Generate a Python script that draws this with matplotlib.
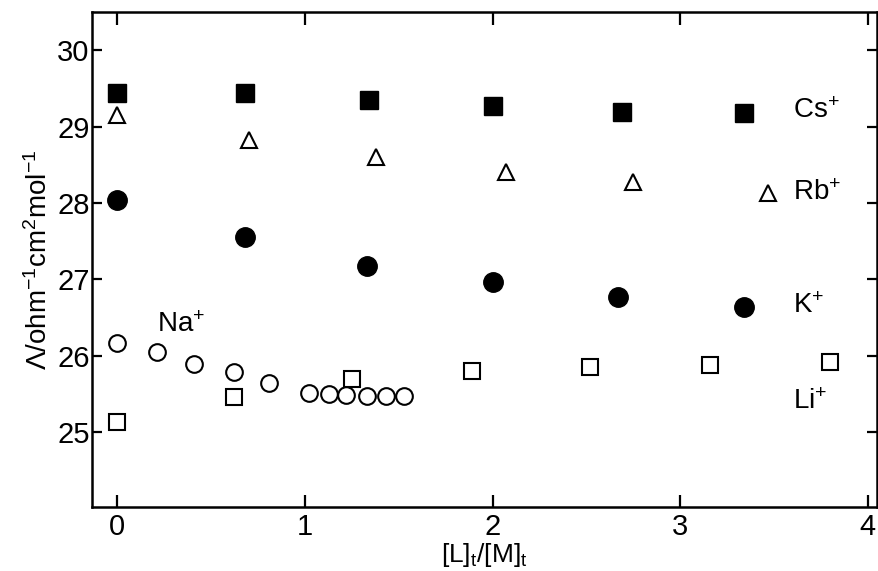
import matplotlib
matplotlib.use("Agg")
import matplotlib.pyplot as plt
from matplotlib import font_manager

# conductance vs ligand/metal ratio
cs_x = [0.0, 0.68, 1.34, 2.0, 2.69, 3.34]
cs_y = [29.44, 29.44, 29.35, 29.27, 29.19, 29.18]

rb_x = [0.0, 0.70, 1.38, 2.07, 2.75, 3.47]
rb_y = [29.15, 28.82, 28.60, 28.40, 28.27, 28.13]

k_x = [0.0, 0.68, 1.33, 2.0, 2.67, 3.34]
k_y = [28.04, 27.55, 27.17, 26.96, 26.77, 26.64]

na_x = [0.0, 0.21, 0.41, 0.62, 0.81, 1.02, 1.13, 1.22, 1.33, 1.43, 1.53]
na_y = [26.17, 26.05, 25.89, 25.79, 25.65, 25.51, 25.50, 25.49, 25.48, 25.47, 25.47]

li_x = [0.0, 0.62, 1.25, 1.89, 2.52, 3.16, 3.80]
li_y = [25.13, 25.46, 25.69, 25.80, 25.85, 25.88, 25.92]

ion_labels = ["Cs$^{+}$", "Rb$^{+}$", "K$^{+}$", "Li$^{+}$"]
ion_label_y = [29.21, 28.13, 26.65, 25.40]

names = {f.name for f in font_manager.fontManager.ttflist}
family = "Liberation Sans Narrow" if "Liberation Sans Narrow" in names else "Liberation Sans"
plt.rcParams["font.family"] = [family, "DejaVu Sans"]
plt.rcParams["mathtext.default"] = "regular"

fig = plt.figure(figsize=(8.79, 5.71), dpi=100)
ax = fig.add_axes([0.105, 0.112, 0.893, 0.867])

ax.plot(cs_x, cs_y, ls="none", marker="s", ms=13, mfc="black", mec="black")
ax.plot(rb_x, rb_y, ls="none", marker="^", ms=11, mfc="white", mec="black", mew=1.5)
ax.plot(k_x, k_y, ls="none", marker="o", ms=14, mfc="black", mec="black")
ax.plot(na_x, na_y, ls="none", marker="o", ms=12, mfc="none", mec="black", mew=1.5)
ax.plot(li_x, li_y, ls="none", marker="s", ms=11.5, mfc="none", mec="black", mew=1.5)

for txt, yy in zip(ion_labels, ion_label_y):
    ax.text(3.6, yy, txt, fontsize=20, ha="left", va="center")
ax.text(0.21, 26.4, "Na$^{+}$", fontsize=20, ha="left", va="center")

ax.set_xlim(-0.133, 4.05)
ax.set_ylim(24.02, 30.5)
ax.set_xticks([0, 1, 2, 3, 4])
ax.set_yticks([25, 26, 27, 28, 29, 30])

for s in ax.spines.values():
    s.set_linewidth(1.8)
ax.tick_params(axis="y", which="major", left=True, right=True, direction="out",
               length=7, width=1.6, labelsize=21, pad=2)
ax.tick_params(axis="y", right=True, direction="in")
ax.tick_params(axis="y", left=True)
ax.tick_params(axis="x", which="major", top=True, bottom=True, direction="in",
               length=9, width=1.6, labelsize=21, pad=4)

ax.set_xlabel("[L]$_{t}$/[M]$_{t}$", fontsize=19, labelpad=0)
ax.set_ylabel("Λ/ohm$^{-1}$cm$^{2}$mol$^{-1}$", fontsize=20, labelpad=3)

fig.savefig("out.png", dpi=100)
